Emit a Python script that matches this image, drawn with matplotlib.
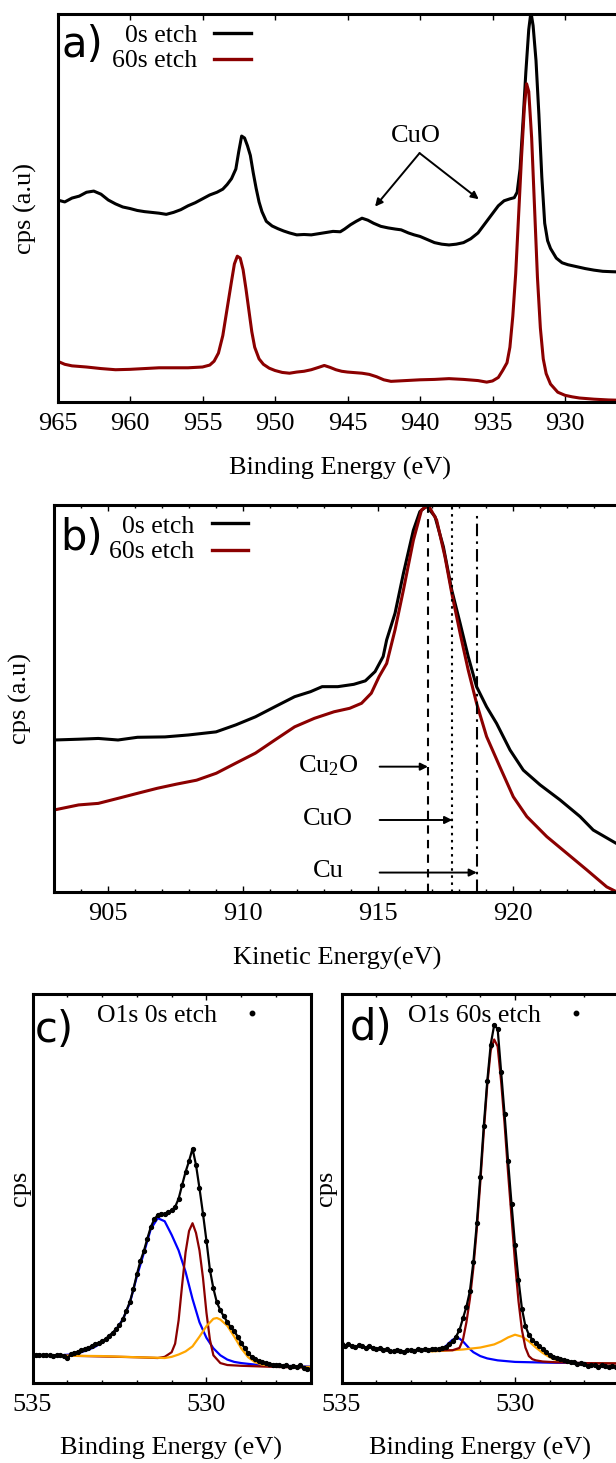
import matplotlib
matplotlib.use("Agg")
import matplotlib.pyplot as plt
from matplotlib.lines import Line2D
from matplotlib.ticker import MultipleLocator, NullLocator

plt.rcParams['font.family'] = ['Liberation Serif', 'DejaVu Serif']
plt.rcParams['mathtext.fontset'] = 'custom'
plt.rcParams['mathtext.rm'] = 'Liberation Serif'
plt.rcParams['mathtext.it'] = 'Liberation Serif:italic'

# ---------------- data: panel a (Cu 2p) ----------------
a_black_E = [965.0, 964.5, 964.0, 963.5, 963.0, 962.5, 962.0, 961.5, 961.0, 960.5, 960.0, 959.5,
             959.0, 958.5, 958.0, 957.5, 957.0, 956.5, 956.0, 955.5, 955.0, 954.5, 954.0, 953.6,
             953.3, 953.0, 952.7, 952.5, 952.3, 952.1, 951.9, 951.7, 951.5, 951.3, 951.1, 950.9,
             950.6, 950.2, 949.8, 949.4, 949.0, 948.5, 948.0, 947.5, 947.0, 946.5, 946.0, 945.5,
             945.2, 944.8, 944.4, 944.0, 943.6, 943.2, 942.7, 942.2, 941.7, 941.3, 940.8, 940.4,
             940.0, 939.5, 939.0, 938.5, 938.0, 937.5, 937.0, 936.5, 936.0, 935.5, 935.0, 934.6,
             934.2, 933.8, 933.5, 933.3, 933.1, 932.9, 932.7, 932.5, 932.35, 932.2, 932.0, 931.8,
             931.6, 931.4, 931.2, 931.0, 930.6, 930.2, 929.8, 929.2, 928.6, 928.0, 927.4, 926.8,
             926.0]
a_black_v = [52.0, 51.5, 52.5, 53.0, 54.0, 54.3, 53.5, 52.0, 51.0, 50.2, 49.8, 49.3,
             49.0, 48.8, 48.6, 48.3, 48.8, 49.5, 50.5, 51.3, 52.3, 53.3, 54.0, 54.8,
             56.0, 57.5, 60.0, 64.5, 68.5, 68.0, 66.0, 63.5, 59.0, 55.0, 51.5, 49.0,
             46.5, 45.3, 44.6, 44.0, 43.5, 43.0, 43.1, 43.0, 43.3, 43.6, 43.9, 43.8,
             44.5, 45.6, 46.5, 47.3, 46.8, 46.0, 45.2, 44.8, 44.5, 44.3, 43.5, 43.0,
             42.6, 41.8, 41.0, 40.6, 40.4, 40.6, 41.0, 42.0, 43.5, 46.0, 48.5, 50.5,
             51.8, 52.3, 52.6, 54.0, 60.0, 72.0, 85.0, 96.0, 100.5, 97.0, 88.0, 74.0,
             58.0, 46.0, 41.5, 39.5, 37.0, 35.8, 35.3, 34.8, 34.3, 33.9, 33.6, 33.5,
             33.4]

a_red_E = [965.0, 964.5, 964.0, 963.0, 962.0, 961.0, 960.0, 959.0, 958.0, 957.0, 956.0, 955.0,
           954.5, 954.2, 953.9, 953.6, 953.3, 953.0, 952.8, 952.6, 952.4, 952.2, 952.0, 951.8,
           951.6, 951.4, 951.1, 950.8, 950.4, 950.0, 949.5, 949.0, 948.5, 948.0, 947.5, 947.0,
           946.6, 946.2, 945.8, 945.4, 945.0, 944.0, 943.5, 943.0, 942.5, 942.0, 941.0, 940.0,
           939.0, 938.0, 937.0, 936.0, 935.4, 935.0, 934.6, 934.3, 934.0, 933.8, 933.6, 933.4,
           933.2, 933.0, 932.8, 932.65, 932.5, 932.3, 932.1, 931.9, 931.7, 931.5, 931.3, 931.0,
           930.5, 930.0, 929.5, 929.0, 928.0, 927.0, 926.0]
a_red_v = [10.4, 9.6, 9.2, 8.9, 8.5, 8.2, 8.3, 8.5, 8.7, 8.7, 8.7, 8.9,
           9.4, 10.4, 12.5, 17.0, 24.0, 31.0, 35.5, 37.5, 37.0, 34.0, 29.0, 23.5,
           18.0, 14.0, 11.0, 9.6, 8.6, 8.0, 7.5, 7.3, 7.6, 7.8, 8.2, 8.8,
           9.3, 8.8, 8.2, 7.8, 7.6, 7.3, 7.0, 6.4, 5.6, 5.2, 5.4, 5.6,
           5.7, 5.9, 5.7, 5.4, 5.0, 5.3, 6.2, 8.0, 10.0, 14.0, 22.0, 33.0,
           48.0, 63.0, 76.0, 82.0, 80.0, 68.0, 50.0, 32.0, 19.0, 11.0, 7.2, 4.5,
           2.4, 1.6, 1.2, 0.9, 0.6, 0.4, 0.3]

a_xticks = [965, 960, 955, 950, 945, 940, 935, 930]

# ---------------- data: panel b (Auger) ----------------
b_black_E = [903.0, 903.9, 904.63, 905.36, 906.08, 907.1, 907.97, 908.99, 909.72, 910.45, 911.17,
             911.9, 912.49, 912.92, 913.5, 914.09, 914.52, 914.88, 915.18, 915.31, 915.62, 915.93,
             916.3, 916.54, 916.79, 917.1, 917.41, 917.72, 918.03, 918.33, 918.64, 919.01, 919.38,
             919.88, 920.37, 920.99, 921.73, 922.47, 922.96, 923.8, 924.0]
b_black_v = [39.2, 39.4, 39.6, 39.2, 39.9, 40.0, 40.5, 41.3, 43.1, 45.2, 47.8,
             50.4, 51.7, 53.0, 53.0, 53.6, 54.5, 56.9, 60.8, 65.1, 72.0, 82.3,
             93.5, 98.3, 99.7, 97.0, 89.2, 78.0, 69.4, 60.8, 53.0, 47.8, 43.5,
             36.6, 31.4, 27.6, 23.7, 19.4, 15.9, 12.5, 11.8]

b_red_E = [903.0, 903.9, 904.63, 905.36, 906.08, 906.81, 907.54, 908.27, 909.0, 909.72, 910.45,
           911.17, 911.9, 912.63, 913.36, 913.94, 914.38, 914.74, 915.03, 915.31, 915.62, 915.93,
           916.3, 916.6, 916.85, 917.16, 917.47, 917.72, 918.03, 918.33, 918.64, 919.01, 919.5,
           920.0, 920.5, 921.24, 921.98, 922.72, 923.46, 923.8, 924.0]
b_red_v = [21.1, 22.4, 22.8, 24.1, 25.4, 26.7, 27.8, 28.8, 30.6, 33.2, 35.8,
           39.2, 42.6, 44.8, 46.5, 47.4, 48.7, 51.3, 55.6, 59.0, 67.7, 78.0,
           90.9, 98.7, 100.0, 96.1, 86.6, 77.2, 66.8, 57.3, 48.7, 40.1, 32.3,
           24.5, 19.4, 14.2, 9.9, 5.6, 1.2, 0.0, -0.6]

b_refs = ['Cu$_2$O', 'CuO', 'Cu']
b_ref_E = [916.84, 917.74, 918.65]
b_ref_y = [32.3, 18.5, 4.9]
b_xticks = [905, 910, 915, 920]

# ---------------- data: panel c (O1s, 0 s etch) ----------------
c_E = [535.0 - 0.1 * i for i in range(81)]
c_data = [7.1, 7.0, 7.2, 7.0, 7.1, 7.0, 6.9, 7.1, 7.0, 6.8,
          6.2, 7.3, 7.6, 7.9, 8.3, 8.6, 8.9, 9.4, 9.8, 10.2,
          10.6, 11.2, 12.0, 12.8, 13.7, 14.7, 16.3, 18.5, 20.8, 24.0,
          27.8, 31.2, 33.8, 37.0, 40.0, 42.0, 43.1, 43.5, 43.4, 43.8,
          44.3, 45.2, 47.3, 50.8, 54.2, 57.0, 60.2, 56.0, 50.0, 43.5,
          36.5, 29.0, 24.2, 20.6, 18.6, 17.0, 15.6, 14.2, 13.2, 11.8,
          10.2, 8.8, 7.6, 6.6, 6.0, 5.5, 5.2, 5.0, 4.8, 4.6,
          4.5, 4.4, 4.3, 4.4, 4.0, 4.2, 4.1, 4.4, 3.8, 3.6,
          3.4]
c_blue_E = [535.0, 534.6, 534.2, 533.8, 533.6, 533.4, 533.2, 533.0, 532.8, 532.6, 532.4, 532.2,
            532.0, 531.8, 531.6, 531.4, 531.2, 531.0, 530.8, 530.6, 530.4, 530.2, 530.0, 529.8,
            529.6, 529.4, 529.2, 529.0, 528.6, 528.2, 527.8, 527.4, 527.0]
c_blue_v = [7.0, 7.0, 7.0, 7.3, 7.8, 8.4, 9.2, 10.3, 11.8, 13.6, 16.3, 20.5,
            27.3, 33.3, 39.5, 42.3, 41.5, 38.0, 34.0, 28.5, 21.5, 15.5, 11.5, 8.8,
            7.0, 5.9, 5.3, 5.0, 4.6, 4.4, 4.3, 4.2, 4.1]
c_red_E = [535.0, 534.0, 533.0, 532.0, 531.4, 531.2, 531.0, 530.9, 530.8, 530.7, 530.6, 530.5,
           530.4, 530.3, 530.2, 530.1, 530.0, 529.9, 529.8, 529.6, 529.4, 529.0, 528.0, 527.0]
c_red_v = [7.0, 6.9, 6.7, 6.5, 6.3, 6.6, 7.8, 10.0, 16.0, 25.0, 33.5, 39.0,
           41.0, 38.5, 34.0, 27.0, 18.0, 11.0, 7.0, 5.0, 4.5, 4.3, 4.0, 3.8]
c_orange_E = [535.0, 534.0, 533.0, 532.0, 531.5, 531.2, 531.0, 530.8, 530.6, 530.4, 530.2, 530.0,
              529.8, 529.7, 529.6, 529.4, 529.2, 529.0, 528.8, 528.6, 528.4, 528.0, 527.0]
c_orange_v = [7.0, 6.9, 6.8, 6.5, 6.4, 6.3, 6.6, 7.2, 8.0, 9.3, 11.8, 14.5,
              16.4, 16.6, 16.2, 14.6, 11.8, 8.8, 6.5, 5.2, 4.6, 4.2, 4.0]

# ---------------- data: panel d (O1s, 60 s etch) ----------------
d_E = [535.0 - 0.1 * i for i in range(81)]
d_data = [9.8, 9.5, 9.9, 9.4, 9.1, 9.6, 9.3, 9.0, 9.4, 8.9,
          8.6, 8.8, 8.3, 8.5, 8.1, 8.0, 8.4, 8.2, 7.9, 8.3,
          8.4, 8.2, 8.6, 8.3, 8.5, 8.4, 8.6, 8.5, 8.7, 8.8,
          9.2, 9.8, 10.6, 11.8, 13.5, 16.5, 19.5, 23.5, 31.0, 41.0,
          53.0, 66.0, 77.5, 87.0, 92.0, 91.0, 80.0, 69.0, 57.0, 46.0,
          35.5, 26.5, 19.0, 14.5, 12.3, 11.0, 10.2, 9.4, 8.6, 7.8,
          7.1, 6.6, 6.3, 6.0, 5.8, 5.6, 5.4, 5.2, 4.8, 5.0,
          4.7, 4.3, 4.6, 4.4, 4.1, 4.5, 4.2, 3.9, 4.3, 4.1,
          4.0]
d_red_E = [532.4, 532.0, 531.8, 531.6, 531.5, 531.4, 531.3, 531.2, 531.1, 531.0, 530.9, 530.8,
           530.7, 530.6, 530.5, 530.4, 530.3, 530.2, 530.1, 530.0, 529.9, 529.8, 529.7, 529.6,
           529.5, 529.4, 529.2, 528.8, 528.0, 527.0]
d_red_v = [8.3, 8.3, 8.3, 8.9, 11.0, 15.5, 21.5, 29.5, 39.5, 51.5, 64.5, 76.5,
           85.5, 88.3, 86.5, 77.5, 66.5, 54.0, 42.5, 31.0, 21.0, 13.5, 9.0, 6.8,
           6.0, 5.7, 5.4, 5.2, 5.0, 4.9]
d_blue_E = [532.4, 532.2, 532.0, 531.9, 531.8, 531.7, 531.6, 531.5, 531.4, 531.3, 531.2, 531.0,
            530.8, 530.5, 530.0, 529.0, 528.0, 527.0]
d_blue_v = [8.2, 8.5, 9.3, 10.2, 11.0, 11.4, 11.3, 10.6, 9.6, 8.6, 7.8, 6.8,
            6.2, 5.7, 5.3, 5.1, 5.0, 4.9]
d_orange_E = [532.4, 532.0, 531.5, 531.0, 530.6, 530.4, 530.2, 530.0, 529.8, 529.6, 529.4, 529.2,
              529.0, 528.8, 528.6, 528.2, 527.0]
d_orange_v = [8.0, 8.2, 8.5, 9.0, 9.8, 10.6, 11.6, 12.3, 11.8, 10.6, 9.0, 7.6,
              6.5, 5.7, 5.3, 5.0, 4.9]

cd_xticks = [535, 530]

# ---------------- figure ----------------
W, H = 616, 1463
DARKRED = '#8b0000'
FS = 19
fig = plt.figure(figsize=(W / 100, H / 100), dpi=100)


def ax_px(left, top, right, bottom):
    return fig.add_axes([left / W, 1 - bottom / H, (right - left) / W, (bottom - top) / H])


def fx(x):
    return x / W


def fy(y):
    return 1 - y / H


def style(ax, xlim, ticks, minor=None):
    ax.set_xlim(*xlim)
    ax.set_ylim(0, 100)
    ax.set_xticks(ticks)
    ax.set_xticklabels([str(t) for t in ticks])
    if minor:
        ax.xaxis.set_minor_locator(MultipleLocator(minor))
    else:
        ax.xaxis.set_minor_locator(NullLocator())
    ax.yaxis.set_major_locator(NullLocator())
    ax.tick_params(axis='x', which='both', direction='in', top=True, bottom=True,
                   labelsize=FS, width=1.0, pad=8)
    ax.tick_params(axis='x', which='major', length=4.5)
    ax.tick_params(axis='x', which='minor', length=2.5)
    for s in ax.spines.values():
        s.set_linewidth(2.2)
    ax.patch.set_alpha(0)


# ---- panel a ----
axa = ax_px(57.5, 14, 623, 401.5)
style(axa, (965, 926), a_xticks)
axa.plot(a_black_E, a_black_v, color='black', lw=2.2, solid_joinstyle='round')
axa.plot(a_red_E, a_red_v, color=DARKRED, lw=2.2, solid_joinstyle='round')
axa.text(940.3, 68.4, 'CuO', fontsize=FS, ha='center', va='center')
for tx, ty in [(943.1, 50.3), (935.95, 52.2)]:
    axa.annotate('', xy=(tx, ty), xytext=(940.03, 64.1),
                 arrowprops=dict(arrowstyle='-|>', color='black', lw=1.4, mutation_scale=11,
                                 shrinkA=0, shrinkB=0))
fig.text(fx(25.5), fy(208), 'cps (a.u)', rotation=90, fontsize=FS, ha='center', va='center')
fig.text(fx(340), fy(468), 'Binding Energy (eV)', fontsize=FS, ha='center', va='center')
fig.text(fx(61), fy(57), 'a)', fontsize=30, family='DejaVu Sans', ha='left', va='baseline')
fig.text(fx(197), fy(41.7), '0s etch', fontsize=18.5, ha='right', va='baseline')
fig.text(fx(197), fy(66.7), '60s etch', fontsize=18.5, ha='right', va='baseline')
fig.add_artist(Line2D([fx(214), fx(251)], [fy(32.7)] * 2, color='black', lw=2.4))
fig.add_artist(Line2D([fx(214), fx(251)], [fy(59.3)] * 2, color=DARKRED, lw=2.4))

# ---- panel b ----
axb = ax_px(54.3, 505, 621.3, 891.5)
style(axb, (903, 924), b_xticks, 1)
axb.plot(b_black_E, b_black_v, color='black', lw=2.2, solid_joinstyle='round')
axb.plot(b_red_E, b_red_v, color=DARKRED, lw=2.2, solid_joinstyle='round')
axb.axvline(b_ref_E[0], color='black', lw=1.5, linestyle=(0, (4, 3)))
axb.axvline(b_ref_E[1], color='black', lw=1.5, linestyle=(0, (1.2, 2.2)))
axb.axvline(b_ref_E[2], ymax=0.985, color='black', lw=1.5, linestyle=(0, (6, 2.5, 1.2, 2.5)))
for name, xe, yv in zip(b_refs, b_ref_E, b_ref_y):
    axb.annotate('', xy=(xe, yv), xytext=(915.05, yv),
                 arrowprops=dict(arrowstyle='-|>', color='black', lw=1.4, mutation_scale=11,
                                 shrinkA=0, shrinkB=0))
    axb.text(913.15, yv + 0.3, name, fontsize=FS, ha='center', va='center')
fig.text(fx(20.7), fy(698), 'cps (a.u)', rotation=90, fontsize=FS, ha='center', va='center')
fig.text(fx(337), fy(958), 'Kinetic Energy(eV)', fontsize=FS, ha='center', va='center')
fig.text(fx(60), fy(550), 'b)', fontsize=30, family='DejaVu Sans', ha='left', va='baseline')
fig.text(fx(194.5), fy(532.7), '0s etch', fontsize=18.5, ha='right', va='baseline')
fig.text(fx(194.5), fy(558.5), '60s etch', fontsize=18.5, ha='right', va='baseline')
fig.add_artist(Line2D([fx(212), fx(248.5)], [fy(523.3)] * 2, color='black', lw=2.4))
fig.add_artist(Line2D([fx(212), fx(248.5)], [fy(550)] * 2, color=DARKRED, lw=2.4))

# ---- panel c ----
axc = ax_px(32.5, 994, 310.8, 1382.5)
style(axc, (535, 527), cd_xticks, 1)
axc.plot(c_blue_E, c_blue_v, color='blue', lw=1.6)
axc.plot(c_red_E, c_red_v, color=DARKRED, lw=1.6)
axc.plot(c_orange_E, c_orange_v, color='orange', lw=1.6)
axc.plot(c_E, c_data, color='black', lw=1.6, marker='o', ms=2.8, mec='black', mfc='black')
fig.text(fx(19.6), fy(1188), 'cps', rotation=90, fontsize=FS, ha='center', va='center')
fig.text(fx(171.5), fy(1448), 'Binding Energy (eV)', fontsize=FS, ha='center', va='center')
fig.text(fx(35), fy(1042), 'c)', fontsize=30, family='DejaVu Sans', ha='left', va='baseline')
fig.text(fx(216.7), fy(1021.7), 'O1s 0s etch', fontsize=18.5, ha='right', va='baseline')
fig.add_artist(Line2D([fx(252.3)], [fy(1012.7)], marker='o', ms=3.2, color='black', lw=0))

# ---- panel d ----
axd = ax_px(341.5, 994, 619.1, 1382.5)
style(axd, (535, 527), cd_xticks, 1)
axd.plot(d_blue_E, d_blue_v, color='blue', lw=1.6)
axd.plot(d_orange_E, d_orange_v, color='orange', lw=1.6)
axd.plot(d_red_E, d_red_v, color=DARKRED, lw=1.6)
axd.plot(d_E, d_data, color='black', lw=1.6, marker='o', ms=2.8, mec='black', mfc='black')
fig.text(fx(326), fy(1188), 'cps', rotation=90, fontsize=FS, ha='center', va='center')
fig.text(fx(480.3), fy(1448), 'Binding Energy (eV)', fontsize=FS, ha='center', va='center')
fig.text(fx(350), fy(1040), 'd)', fontsize=30, family='DejaVu Sans', ha='left', va='baseline')
fig.text(fx(540.7), fy(1021.7), 'O1s 60s etch', fontsize=18.5, ha='right', va='baseline')
fig.add_artist(Line2D([fx(576)], [fy(1012.7)], marker='o', ms=3.2, color='black', lw=0))

fig.savefig('out.png', dpi=100)
